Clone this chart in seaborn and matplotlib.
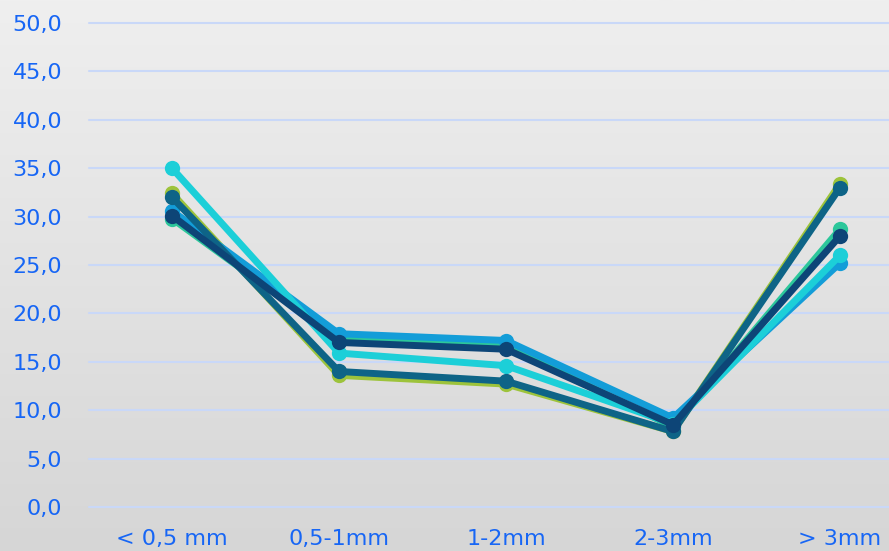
import numpy as np
import pandas as pd
import matplotlib
matplotlib.use("Agg")
import matplotlib.pyplot as plt
import seaborn as sns
from matplotlib.ticker import FuncFormatter
from matplotlib.colors import LinearSegmentedColormap

categories = ["< 0,5 mm", "0,5-1mm", "1-2mm", "2-3mm", "> 3mm"]
series_names = ["S1", "S2", "S3", "S4", "S5", "S6"]
s1 = [32.4, 13.6, 12.7, 7.8, 33.4]
s2 = [29.8, 17.3, 16.6, 8.3, 28.7]
s3 = [30.6, 17.9, 17.2, 9.2, 25.2]
s4 = [35.0, 15.9, 14.6, 8.6, 26.0]
s5 = [32.0, 14.0, 13.0, 7.8, 33.0]
s6 = [30.1, 17.0, 16.3, 8.5, 28.0]
colors = ["#9DC33B", "#2CC79B", "#139DD8", "#1CCFD8", "#0E6487", "#0D4577"]
yticks = [0, 5, 10, 15, 20, 25, 30, 35, 40, 45, 50]

values = [s1, s2, s3, s4, s5, s6]
rows = []
for name, vals in zip(series_names, values):
    for c, v in zip(categories, vals):
        rows.append({"cat": c, "val": v, "series": name})
df = pd.DataFrame(rows)

sns.set_theme(style="white")
plt.rcParams['font.family'] = ['DejaVu Sans']

W, H = 889, 551
fig = plt.figure(figsize=(W / 100, H / 100), dpi=100)

# gradient background
bg = fig.add_axes([0, 0, 1, 1], zorder=-10)
grad = np.linspace(0, 1, 256).reshape(-1, 1)
cmap = LinearSegmentedColormap.from_list("g", ["#EFEFEF", "#D6D6D6"])
bg.imshow(grad, aspect="auto", cmap=cmap, extent=[0, 1, 0, 1], origin="upper")
bg.axis("off")

ax = fig.add_axes([88.5 / W, 44 / H, 835 / W, 484 / H])
ax.patch.set_alpha(0)
sns.lineplot(data=df, x="cat", y="val", hue="series", palette=colors,
             marker="o", markersize=11, linewidth=5, markeredgewidth=0,
             sort=False, ax=ax, legend=False)

ax.set_xlim(-0.5, 4.5)
ax.set_ylim(0, 50)
ax.set_yticks(yticks)
ax.yaxis.set_major_formatter(FuncFormatter(lambda v, p: f"{v:.1f}".replace(".", ",")))
ax.grid(axis="y", color="#C9D8F8", linewidth=1.5)
for gl in ax.get_ygridlines():
    gl.set_clip_on(False)
ax.set_axisbelow(True)
for sp in ax.spines.values():
    sp.set_visible(False)
ax.set_xlabel("")
ax.set_ylabel("")
tc = "#1766F5"
ax.tick_params(axis="y", length=0, pad=19, labelsize=16, labelcolor=tc)
ax.tick_params(axis="x", length=0, pad=15.5, labelsize=16, labelcolor=tc)

fig.savefig("out.png", dpi=100)
